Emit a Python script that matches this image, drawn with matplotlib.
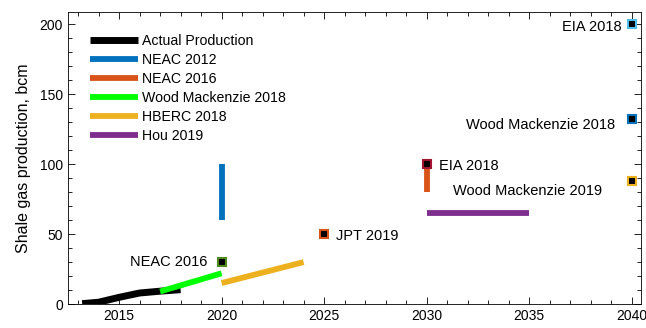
import numpy as np
import matplotlib.pyplot as plt
from matplotlib.ticker import MultipleLocator

plt.rcParams['font.family'] = ['Liberation Sans', 'DejaVu Sans']

# Actual production
actual_year = [2013.2, 2014, 2015, 2016, 2017, 2018]
actual_prod = [0.3, 1.3, 4.8, 7.9, 9.2, 10.3]

# Forecast ranges / lines
neac2012_year = [2020, 2020]
neac2012_prod = [60, 100]
neac2016_year = [2030, 2030]
neac2016_prod = [80, 98]
woodmac2018_year = [2017, 2020]
woodmac2018_prod = [9, 22]
hberc_year = [2020, 2024]
hberc_prod = [15, 30]
hou_year = [2030, 2035]
hou_prod = [65, 65]

# Point forecasts
pt_labels = ['NEAC 2016', 'JPT 2019', 'EIA 2018', 'EIA 2018', 'Wood Mackenzie 2018', 'Wood Mackenzie 2019']
pt_year = [2020, 2025, 2030, 2040, 2040, 2040]
pt_prod = [30, 50, 100, 200, 132, 88]
pt_edge = ['#4f8a1c', '#D95319', '#A2142F', '#4DBEEE', '#0072BD', '#EDB120']

fig = plt.figure(figsize=(6.46, 3.28), dpi=100)
ax = fig.add_axes([0.105, 0.073, 0.887, 0.891])

lw = 4.2
ax.plot(actual_year, actual_prod, color='black', lw=5, label='Actual Production', solid_capstyle='butt', zorder=3)
ax.plot(neac2012_year, neac2012_prod, color='#0072BD', lw=lw, label='NEAC 2012', solid_capstyle='butt')
ax.plot(neac2016_year, neac2016_prod, color='#D95319', lw=lw, label='NEAC 2016', solid_capstyle='butt')
ax.plot(woodmac2018_year, woodmac2018_prod, color='#00FF00', lw=lw, label='Wood Mackenzie 2018', solid_capstyle='butt', zorder=4)
ax.plot(hberc_year, hberc_prod, color='#EDB120', lw=lw, label='HBERC 2018', solid_capstyle='butt')
ax.plot(hou_year, hou_prod, color='#7E2F8E', lw=lw, label='Hou 2019', solid_capstyle='butt')

for x, y, c in zip(pt_year, pt_prod, pt_edge):
    ax.plot(x, y, marker='s', ms=5.5, mfc='black', mec=c, mew=1.5, ls='none', zorder=5)

fs = 10.5
ax.text(2019.3, 30, 'NEAC 2016', ha='right', va='center', fontsize=fs)
ax.text(2025.6, 49, 'JPT 2019', ha='left', va='center', fontsize=fs)
ax.text(2030.6, 99, 'EIA 2018', ha='left', va='center', fontsize=fs)
ax.text(2031.3, 81, 'Wood Mackenzie 2019', ha='left', va='center', fontsize=fs)
ax.text(2039.5, 198, 'EIA 2018', ha='right', va='center', fontsize=fs)
ax.text(2039.2, 128, 'Wood Mackenzie 2018', ha='right', va='center', fontsize=fs)

ax.set_xlim(2012.5, 2040.45)
ax.set_ylim(0, 209)
ax.set_xticks([2015, 2020, 2025, 2030, 2035, 2040])
ax.set_yticks([0, 50, 100, 150, 200])
ax.xaxis.set_minor_locator(MultipleLocator(1))
ax.yaxis.set_minor_locator(MultipleLocator(10))
ax.tick_params(which='both', direction='in', top=True, right=True, labelsize=10, width=0.6)
ax.tick_params(which='major', length=5)
ax.tick_params(which='minor', length=3)
for s in ax.spines.values():
    s.set_linewidth(0.6)
ax.set_ylabel('Shale gas production, bcm', fontsize=11.5, labelpad=6)

ax.legend(loc='upper left', frameon=False, fontsize=10.2, handlelength=3.45, handletextpad=0.25,
          labelspacing=0.36, bbox_to_anchor=(0.028, 0.945), borderaxespad=0)

fig.savefig('out.png', dpi=100)
